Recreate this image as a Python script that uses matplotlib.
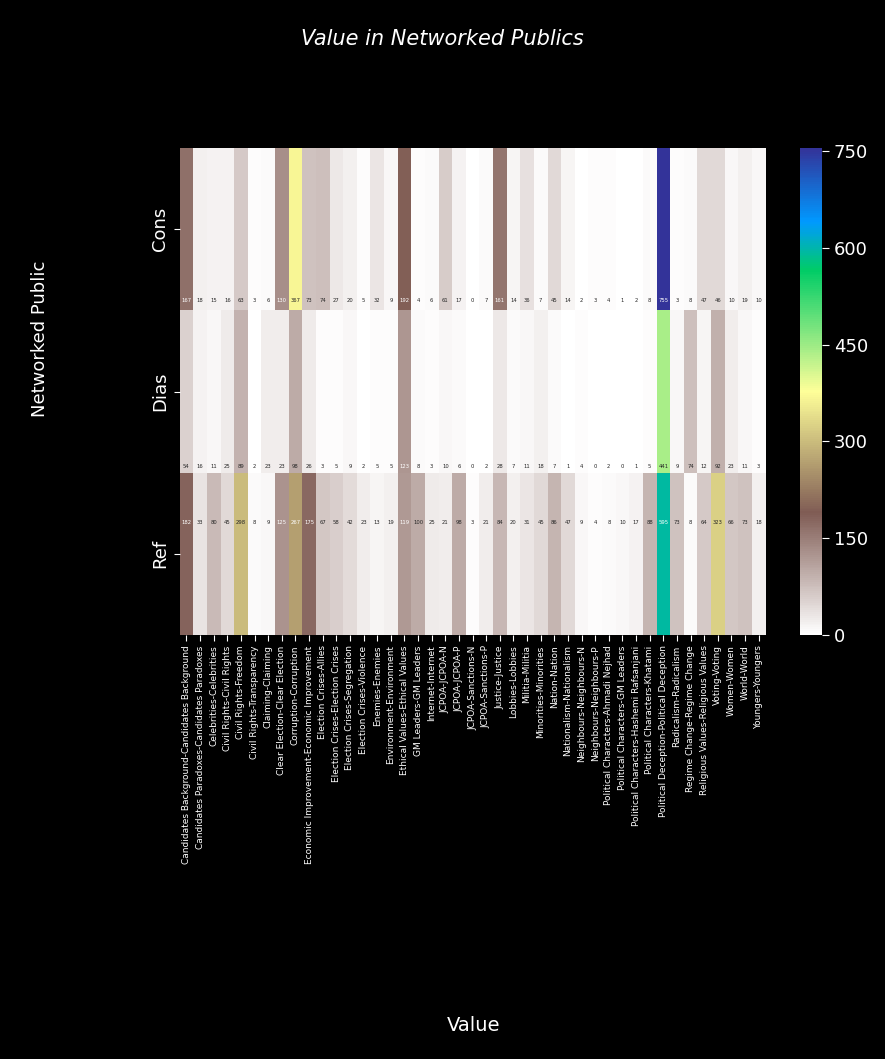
import numpy as np
import matplotlib
matplotlib.use("Agg")
import matplotlib.pyplot as plt

publics = ["Cons", "Dias", "Ref"]
values = [
    "Candidates Background-Candidates Background",
    "Candidates Paradoxes-Candidates Paradoxes",
    "Celebrities-Celebrities",
    "Civil Rights-Civil Rights",
    "Civil Rights-Freedom",
    "Civil Rights-Transparency",
    "Claiming-Claiming",
    "Clear Election-Clear Election",
    "Corruption-Corruption",
    "Economic Improvement-Economic Improvement",
    "Election Crises-Allies",
    "Election Crises-Election Crises",
    "Election Crises-Segregation",
    "Election Crises-Violence",
    "Enemies-Enemies",
    "Environment-Environment",
    "Ethical Values-Ethical Values",
    "GM Leaders-GM Leaders",
    "Internet-Internet",
    "JCPOA-JCPOA-N",
    "JCPOA-JCPOA-P",
    "JCPOA-Sanctions-N",
    "JCPOA-Sanctions-P",
    "Justice-Justice",
    "Lobbies-Lobbies",
    "Militia-Militia",
    "Minorities-Minorities",
    "Nation-Nation",
    "Nationalism-Nationalism",
    "Neighbours-Neighbours-N",
    "Neighbours-Neighbours-P",
    "Political Characters-Ahmadi Nejhad",
    "Political Characters-GM Leaders",
    "Political Characters-Hashemi Rafsanjani",
    "Political Characters-Khatami",
    "Political Deception-Political Deception",
    "Radicalism-Radicalism",
    "Regime Change-Regime Change",
    "Religious Values-Religious Values",
    "Voting-Voting",
    "Women-Women",
    "World-World",
    "Youngers-Youngers",
]
cons = [167, 18, 15, 16, 63, 3, 6, 130, 367, 73, 74, 27, 20, 5, 32, 9, 192, 4, 6, 61, 17, 0, 7,
        161, 14, 36, 7, 45, 14, 2, 3, 4, 1, 2, 8, 755, 3, 8, 47, 46, 10, 19, 10]
dias = [54, 16, 11, 25, 89, 2, 23, 23, 98, 26, 3, 5, 9, 2, 5, 5, 123, 8, 3, 10, 6, 0, 2,
        28, 7, 11, 18, 7, 1, 4, 0, 2, 0, 1, 5, 441, 9, 74, 12, 92, 23, 11, 3]
ref = [182, 33, 80, 45, 298, 8, 9, 125, 267, 175, 67, 58, 42, 23, 13, 19, 119, 100, 25, 21, 98, 3, 21,
       84, 20, 31, 45, 86, 47, 9, 4, 8, 10, 17, 88, 595, 73, 8, 64, 323, 66, 73, 18]
colorbar_ticks = [0, 150, 300, 450, 600, 750]

data = np.array([cons, dias, ref], dtype=float)
vmax = data.max()

fig = plt.figure(figsize=(8.85, 10.59), dpi=100, facecolor="black")
ax = fig.add_axes([0.203, 0.4004, 0.662, 0.4598])
cax = fig.add_axes([0.904, 0.4004, 0.025, 0.4598])

cmap = plt.get_cmap("terrain_r")
mesh = ax.pcolormesh(data, cmap=cmap, vmin=0, vmax=vmax)
ax.set_xlim(0, data.shape[1])
ax.set_ylim(data.shape[0], 0)


def rel_lum(rgb):
    c = np.array(rgb[:3])
    c = np.where(c <= 0.03928, c / 12.92, ((c + 0.055) / 1.055) ** 2.4)
    return 0.2126 * c[0] + 0.7152 * c[1] + 0.0722 * c[2]


# annotations (vertical placement as in reference)
ann_y = [0.94, 1.96, 2.31]
for i in range(data.shape[0]):
    for j in range(data.shape[1]):
        v = data[i, j]
        col = "white" if rel_lum(cmap(v / vmax)) < 0.408 else "#262626"
        ax.text(j + 0.5, ann_y[i], f"{int(v)}", ha="center", va="center",
                fontsize=3.8, color=col)

ax.set_xticks(np.arange(data.shape[1]) + 0.5)
ax.set_xticklabels(values, rotation=90, fontsize=6.5, color="white")
ax.set_yticks(np.arange(data.shape[0]) + 0.5)
ax.set_yticklabels(publics, rotation=90, va="center", fontsize=13, color="white")
ax.tick_params(colors="white", length=4)
for s in ax.spines.values():
    s.set_visible(False)

cb = fig.colorbar(mesh, cax=cax, ticks=colorbar_ticks)
cb.outline.set_visible(False)
cax.tick_params(colors="white", labelsize=13, length=5)
for t in cax.get_yticklabels():
    t.set_color("white")

fig.text(0.5, 0.963, "Value in Networked Publics", ha="center", va="center",
         fontsize=15, style="italic", color="white")
fig.text(0.045, 0.68, "Networked Public", rotation=90, ha="center", va="center",
         fontsize=13, color="white")
fig.text(0.535, 0.032, "Value", ha="center", va="center", fontsize=14, color="white")

fig.savefig("out.png", dpi=100, facecolor="black")
